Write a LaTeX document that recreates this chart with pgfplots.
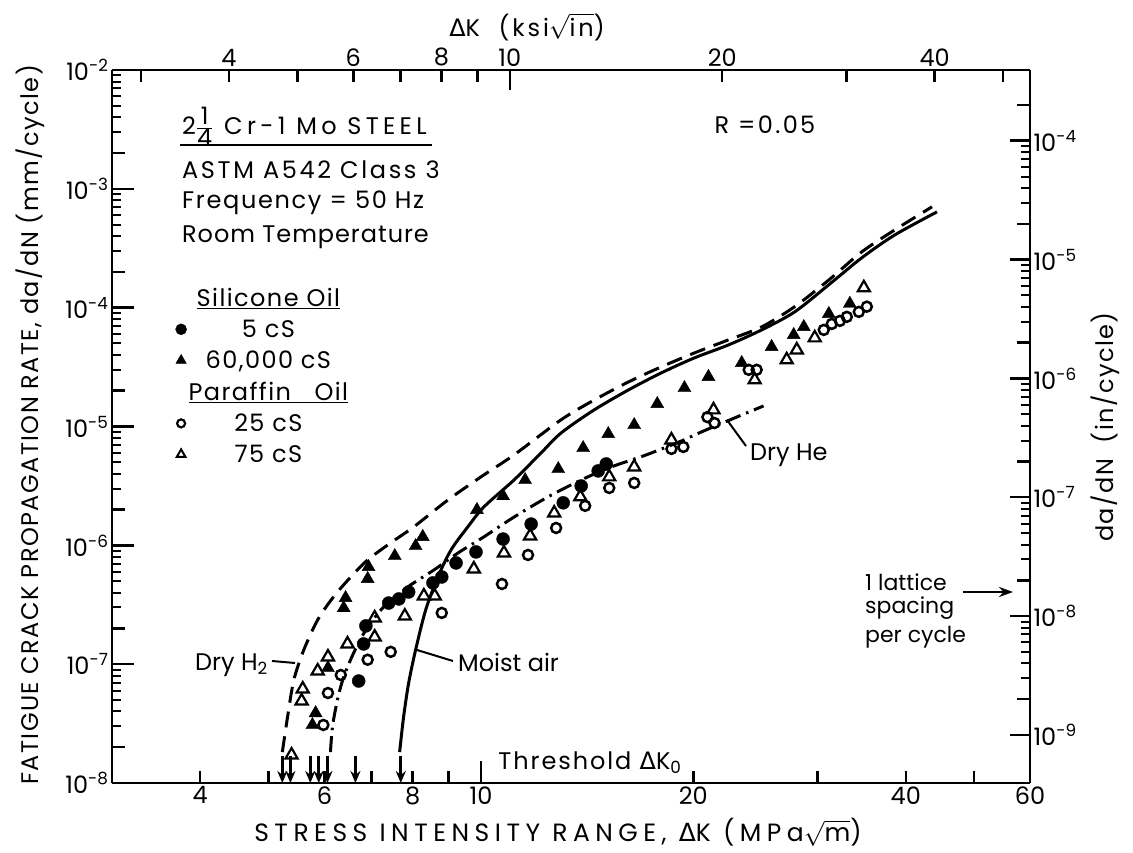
\documentclass[border=0pt]{standalone}
\usepackage{pgfplots}
\pgfplotsset{compat=1.18}
\usepackage{fontspec}
\setmainfont{Poppins}
\newfontfamily\dv{DejaVu Sans}
\usetikzlibrary{arrows.meta}
\newcommand{\D}{{\dv Δ}}
\newcommand{\LS}[2]{{\addfontfeature{LetterSpace=#1}#2}}
\begin{document}
\begin{tikzpicture}[x=1pt,y=1pt]
\useasboundingbox (0,0) rectangle (1133,852);
\begin{axis}[
  at={(112pt,69pt)}, anchor=south west,
  scale only axis, width=918pt, height=713pt,
  xmode=log, ymode=log, xmin=3, xmax=60,
  separate axis lines,
  every outer x axis line/.append style={line width=2.5pt},
  every outer y axis line/.append style={line width=2.5pt},
  major tick style={line width=2.5pt, black},
  minor tick style={line width=2pt, black},
  tick align=inside,
  major tick length=22pt, minor tick length=9pt,
  xminorticks=false,
  tick label style={font=\fontsize{24}{26}\selectfont},
  clip=false,
  ymin=1e-8, ymax=1e-2,
  xtick pos=left, xticklabel pos=left,
  ytick pos=left, yticklabel pos=left,
  xtick={10}, xticklabels={10},
  extra x ticks={4,5,6,7,8,9,20,30,40,50,60},
  extra x tick labels={4,,6,,8,,20,,40,,60},
  extra x tick style={major tick length=12pt},
  ytick={1e-8,1e-7,1e-6,1e-5,1e-4,1e-3,1e-2},
  yticklabels={10\textsuperscript{-8},10\textsuperscript{-7},10\textsuperscript{-6},10\textsuperscript{-5},10\textsuperscript{-4},10\textsuperscript{-3},10\textsuperscript{-2}},
  extra y ticks={2e-8,2e-7,2e-6,2e-5,2e-4,2e-3},
  extra y tick labels={},
  extra y tick style={major tick length=13pt},
  legend style={at={(0.0625,0.70)}, anchor=north west, draw=none, fill=none,
    font=\fontsize{24}{26}\selectfont\addfontfeature{LetterSpace=6}, row sep=8pt},
  legend cell align=center,
]
% legend
\addlegendimage{empty legend}\addlegendentry{\underline{Silicone Oil}}
\addlegendimage{only marks, mark=*, mark size=5.5pt, black}\addlegendentry{5 cS}
\addlegendimage{only marks, mark=triangle*, mark size=6pt, black}\addlegendentry{60,000 cS}
\addlegendimage{empty legend}\addlegendentry{\underline{Paraffin\ \ \ Oil}}
\addlegendimage{only marks, mark=o, mark size=4pt, black, line width=2.2pt}\addlegendentry{25 cS}
\addlegendimage{only marks, mark=triangle, mark size=5pt, black, line width=2pt}\addlegendentry{75 cS}

% Dry H2 (dashed)
\addplot[forget plot, black, line width=3pt, dash pattern=on 16pt off 9pt, smooth, tension=0.5] table {
5.23 1.82e-8
5.32 3.59e-8
5.43 7.36e-8
5.61 1.32e-7
5.87 2.36e-7
6.18 3.68e-7
6.54 5.42e-7
6.91 7.54e-7
7.45 1.05e-6
8.03 1.43e-6
8.98 2.41e-6
10.0 3.77e-6
11.14 5.77e-6
12.99 1.14e-5
14.47 1.67e-5
16.18 2.37e-5
18.02 3.18e-5
20.07 4.16e-5
22.43 5.36e-5
24.99 6.89e-5
27.84 1.02e-4
31.12 1.71e-4
34.66 2.95e-4
38.61 4.52e-4
43.58 7.06e-4
};
% Moist air (solid)
\addplot[forget plot, black, line width=3pt, smooth, tension=0.5] table {
7.67 1.82e-8
7.77 3.59e-8
7.90 6.95e-8
8.08 1.32e-7
8.35 2.86e-7
8.69 5.42e-7
9.07 9.15e-7
9.58 1.43e-6
10.10 2.11e-6
11.14 3.55e-6
12.17 6.00e-6
12.99 8.83e-6
14.47 1.38e-5
16.18 2.03e-5
18.02 2.83e-5
20.07 3.78e-5
22.43 4.86e-5
24.99 6.50e-5
27.84 9.22e-5
31.12 1.56e-4
34.66 2.63e-4
38.61 4.10e-4
44.30 6.40e-4
};
% Dry He (dash-dot)
\addplot[forget plot, black, line width=3pt, dash pattern=on 16pt off 6pt on 2.5pt off 6pt, smooth, tension=0.5] table {
6.12 1.82e-8
6.16 2.96e-8
6.26 5.00e-8
6.39 7.80e-8
6.60 1.24e-7
6.87 1.94e-7
7.28 3.03e-7
7.88 4.47e-7
8.58 6.21e-7
9.28 8.63e-7
10.10 1.18e-6
11.14 1.73e-6
12.45 2.56e-6
13.87 3.55e-6
15.30 4.57e-6
17.15 5.77e-6
19.24 7.56e-6
20.54 9.01e-6
22.88 1.18e-5
25.15 1.49e-5
};
% 5 cS filled circles
\addplot[forget plot, only marks, mark=*, mark size=6.5pt, black] table {
6.71 7.22e-8
6.82 1.48e-7
6.87 2.10e-7
7.40 3.27e-7
7.65 3.54e-7
7.90 4.05e-7
8.55 4.83e-7
8.80 5.42e-7
9.22 7.11e-7
9.84 8.80e-7
10.75 1.13e-6
11.78 1.51e-6
13.08 2.28e-6
13.87 3.16e-6
14.66 4.23e-6
15.05 4.84e-6
};
% 60,000 cS filled triangles
\addplot[forget plot, only marks, mark=triangle*, mark size=7.5pt, black] table {
5.77 3.08e-8
5.83 3.88e-8
6.07 9.29e-8
6.39 2.97e-7
6.43 3.61e-7
6.91 5.22e-7
6.93 6.58e-7
7.55 8.14e-7
8.08 9.88e-7
8.27 1.18e-6
9.87 1.99e-6
10.75 2.60e-6
11.55 3.55e-6
12.87 4.39e-6
13.96 6.60e-6
15.15 8.66e-6
16.49 1.03e-5
17.78 1.55e-5
19.43 2.11e-5
21.01 2.62e-5
23.42 3.43e-5
25.82 4.68e-5
27.75 5.90e-5
28.68 6.89e-5
31.12 8.87e-5
33.33 1.08e-4
};
% 25 cS open circles
\addplot[forget plot, only marks, mark=o, mark size=5pt, black, line width=2.5pt] table {
5.98 3.08e-8
6.07 5.72e-8
6.33 8.11e-8
6.91 1.09e-7
7.45 1.27e-7
8.80 2.70e-7
10.71 4.73e-7
11.66 8.30e-7
12.78 1.40e-6
14.05 2.15e-6
15.20 3.04e-6
16.49 3.35e-6
18.62 6.48e-6
19.36 6.73e-6
20.94 1.20e-5
21.43 1.07e-5
23.96 3.00e-5
24.59 3.00e-5
30.61 6.50e-5
31.42 7.30e-5
32.26 7.74e-5
33.00 8.37e-5
34.32 9.22e-5
35.23 1.02e-4
};
% 75 cS open triangles
\addplot[forget plot, only marks, mark=triangle, mark size=7pt, black, line width=2.2pt] table {
5.39 1.72e-8
5.57 4.90e-8
5.59 6.18e-8
5.87 8.77e-8
6.07 1.15e-7
6.47 1.48e-7
7.07 1.69e-7
7.07 2.45e-7
7.80 2.54e-7
8.30 3.75e-7
8.60 3.75e-7
9.77 6.33e-7
10.78 8.63e-7
11.74 1.20e-6
12.70 1.87e-6
13.83 2.56e-6
15.20 3.77e-6
16.49 4.57e-6
18.62 7.71e-6
21.36 1.38e-5
24.43 2.47e-5
27.12 3.64e-5
28.03 4.41e-5
29.72 5.57e-5
34.89 1.47e-4
};
% threshold arrows
\addplot[forget plot, black, line width=3pt, -{Stealth[length=12pt,width=10pt]}] coordinates {(5.23,1.7e-8) (5.23,1.0e-8)};
\addplot[forget plot, black, line width=3pt, -{Stealth[length=12pt,width=10pt]}] coordinates {(5.37,1.7e-8) (5.37,1.0e-8)};
\addplot[forget plot, black, line width=3pt, -{Stealth[length=12pt,width=10pt]}] coordinates {(5.73,1.7e-8) (5.73,1.0e-8)};
\addplot[forget plot, black, line width=3pt, -{Stealth[length=12pt,width=10pt]}] coordinates {(5.89,1.7e-8) (5.89,1.0e-8)};
\addplot[forget plot, black, line width=3pt, -{Stealth[length=12pt,width=10pt]}] coordinates {(6.06,1.7e-8) (6.06,1.0e-8)};
\addplot[forget plot, black, line width=3pt, -{Stealth[length=12pt,width=10pt]}] coordinates {(6.64,1.7e-8) (6.64,1.0e-8)};
\addplot[forget plot, black, line width=3pt, -{Stealth[length=12pt,width=10pt]}] coordinates {(7.70,1.7e-8) (7.70,1.0e-8)};
\end{axis}
\begin{axis}[
  at={(112pt,69pt)}, anchor=south west,
  scale only axis, width=918pt, height=713pt,
  xmode=log, ymode=log, xmin=3, xmax=60,
  separate axis lines,
  every outer x axis line/.append style={line width=2.5pt},
  every outer y axis line/.append style={line width=2.5pt},
  major tick style={line width=2.5pt, black},
  minor tick style={line width=2pt, black},
  tick align=inside,
  major tick length=20pt, minor tick length=9pt,
  xminorticks=false,
  tick label style={font=\fontsize{24}{26}\selectfont},
  ymin=3.937e-10, ymax=3.937e-4,
  xtick pos=right, xticklabel pos=right,
  ytick pos=right, yticklabel pos=right,
  xtick={10.988}, xticklabels={10},
  extra x ticks={3.2964,4.3952,5.494,6.5928,7.6916,8.7904,9.8892,21.976,32.964,43.952,54.94},
  extra x tick labels={,4,,6,,8,,20,,40,},
  extra x tick style={major tick length=12pt},
  ytick={1e-9,1e-8,1e-7,1e-6,1e-5,1e-4},
  yticklabels={10\textsuperscript{-9},10\textsuperscript{-8},10\textsuperscript{-7},10\textsuperscript{-6},10\textsuperscript{-5},10\textsuperscript{-4}},
  extra y ticks={2e-9,2e-8,2e-7,2e-6,2e-5,2e-4},
  extra y tick labels={},
  extra y tick style={major tick length=13pt},
]
\addplot[draw=none, forget plot] coordinates {(10,1e-6)};
\end{axis}
% axis titles
\tikzset{lab/.style={font=\fontsize{24}{26}\selectfont, inner sep=0pt}}
\node[lab, font=\fontsize{24}{26}\selectfont] at (527,825) {\LS{12}{\D K\ \ (ksi$\sqrt{\mbox{in}}$)}};
\node[lab, font=\fontsize{25}{27}\selectfont] at (558,20) {\LS{22}{STRESS INTENSITY RANGE, \D K (MPa$\sqrt{\mbox{m}}$)}};
\node[lab, rotate=90] at (30,427) {\LS{6}{FATIGUE CRACK PROPAGATION RATE, da/dN (mm/cycle)}};
\node[lab, rotate=90] at (1105,425) {\LS{6}{da/dN\ \ (in/cycle)}};
% annotations
\node[lab] at (765,727) {\LS{10}{R =0.05}};
\node[lab, anchor=west] at (182,725) {\LS{18}{2$\frac{\mbox{1}}{\mbox{4}}$ Cr-1 Mo STEEL}};
\draw[line width=2.5pt] (180,707) -- (432,707);
\node[lab, anchor=west] at (182,682) {\LS{11}{ASTM A542 Class 3}};
\node[lab, anchor=west] at (182,649) {\LS{7}{Frequency = 50 Hz}};
\node[lab, anchor=west] at (182,615) {\LS{4}{Room Temperature}};
\node[lab, anchor=east] at (268,187) {Dry H\textsubscript{2}};
\draw[line width=2pt] (272,191) -- (295,189);
\node[lab, anchor=west] at (458,190) {Moist air};
\draw[line width=2pt] (417,202) -- (453,191);
\node[lab, anchor=west] at (750,397) {Dry He};
\draw[line width=2pt] (727,432) -- (746,406);
\node[lab] at (590,89) {\LS{8}{Threshold \D K\textsubscript{0}}};
\node[lab, anchor=west, font=\fontsize{22}{24}\selectfont] at (865,270) {1 lattice};
\node[lab, anchor=west, font=\fontsize{22}{24}\selectfont] at (865,244) {spacing};
\node[lab, anchor=west, font=\fontsize{22}{24}\selectfont] at (865,215) {per cycle};
\draw[line width=2.5pt, -{Stealth[length=14pt,width=10pt]}] (963,260) -- (1013,260);
\end{tikzpicture}
\end{document}
